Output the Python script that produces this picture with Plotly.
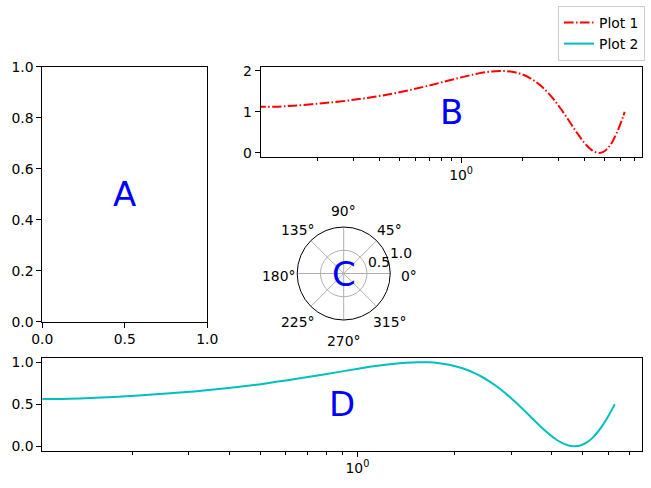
import math
import plotly.graph_objs as go

# curve samples read off panels B and D (the first sample sits left of the
# visible range: the traces run flat into the left spine)
x_vals = [0.100, 0.128, 0.256, 0.385, 0.513, 0.641, 0.769, 0.898, 1.026, 1.154,
          1.282, 1.411, 1.539, 1.667, 1.795, 1.923, 2.052, 2.180, 2.308, 2.436,
          2.565, 2.693, 2.821, 2.949, 3.077, 3.206, 3.334, 3.462, 3.590, 3.719,
          3.847, 3.975, 4.103, 4.232, 4.360, 4.488, 4.616, 4.744, 4.873, 5.001,
          5.129, 5.257, 5.386, 5.514, 5.642, 5.770, 5.899, 6.027, 6.155, 6.283]
plot1 = [1.127, 1.128, 1.254, 1.375, 1.491, 1.598, 1.696, 1.782, 1.855, 1.914,
         1.959, 1.987, 2.000, 1.995, 1.975, 1.938, 1.887, 1.820, 1.741, 1.649,
         1.545, 1.434, 1.315, 1.191, 1.064, 0.936, 0.809, 0.685, 0.566, 0.455,
         0.351, 0.259, 0.180, 0.113, 0.062, 0.025, 0.005, 0.000, 0.013, 0.041,
         0.086, 0.145, 0.218, 0.304, 0.402, 0.509, 0.625, 0.746, 0.872, 1.000]
plot2 = [0.563, 0.564, 0.627, 0.688, 0.745, 0.799, 0.848, 0.891, 0.928, 0.957,
         0.979, 0.994, 1.000, 0.998, 0.987, 0.969, 0.943, 0.910, 0.870, 0.824,
         0.773, 0.717, 0.658, 0.596, 0.532, 0.468, 0.404, 0.342, 0.283, 0.227,
         0.176, 0.130, 0.090, 0.057, 0.031, 0.013, 0.002, 0.000, 0.006, 0.021,
         0.043, 0.072, 0.109, 0.152, 0.201, 0.255, 0.312, 0.373, 0.436, 0.500]
series_names = ['Plot 1', 'Plot 2']
panel_labels = ['A', 'B', 'C', 'D']
radial_ticks = [0.5, 1.0]
angle_ticks = [0, 45, 90, 135, 180, 225, 270, 315]

minor_log = [0.2, 0.3, 0.4, 0.5, 0.6, 0.7, 0.8, 0.9, 2, 3, 4, 5, 6, 7]
W, H = 651, 488
FONT = 'DejaVu Sans'


def px(x):
    return x / W


def py(y):
    return 1 - y / H


traces = [
    # empty axes A
    go.Scatter(x=[], y=[], xaxis='x', yaxis='y', showlegend=False),
    go.Scatter(x=x_vals, y=plot1, name=series_names[0], xaxis='x2', yaxis='y2',
               mode='lines', line_shape='spline',
               line=dict(color='#ff0000', width=2, dash='9.6px,2.4px,1.5px,2.4px')),
    go.Scatter(x=x_vals, y=plot2, name=series_names[1], xaxis='x3', yaxis='y3',
               mode='lines', line_shape='spline',
               line=dict(color='#00bfbf', width=2)),
    go.Scatterpolar(r=[], theta=[], showlegend=False),
]

axis_style = dict(showline=True, mirror=True, linecolor='black', linewidth=1,
                  ticks='outside', ticklen=5, tickwidth=1, tickcolor='black',
                  showgrid=False, zeroline=False, automargin=False,
                  tickfont=dict(family=FONT, size=13.9, color='black'))

log_range = [-0.9775, 0.8826]
log_axis = dict(axis_style, type='log', range=log_range, tickvals=[1],
                ticktext=['10<sup>0</sup>'],
                minor=dict(tickvals=minor_log, ticks='outside', ticklen=3,
                           tickwidth=1, tickcolor='black', showgrid=False))

# polar panel C: centre and radius in pixels
cx, cy, rad = 343.7, 273.5, 46.5

layout = go.Layout(
    width=W, height=H,
    margin=dict(l=0, r=0, t=0, b=0, autoexpand=False),
    paper_bgcolor='white', plot_bgcolor='white',
    font=dict(family=FONT, size=13.9, color='black'),
    xaxis=dict(axis_style, domain=[px(42.3), px(207.3)], range=[0, 1],
               tickvals=[0, 0.5, 1], tickformat='.1f', anchor='y'),
    yaxis=dict(axis_style, domain=[py(321.7), py(66.8)], range=[0, 1],
               dtick=0.2, tickformat='.1f', anchor='x'),
    xaxis2=dict(log_axis, domain=[px(260.7), px(642)], anchor='y2'),
    yaxis2=dict(axis_style, domain=[py(157), py(66.8)], range=[-0.1, 2.1],
                tickvals=[0, 1, 2], anchor='x2'),
    xaxis3=dict(log_axis, domain=[px(42.3), px(642)], anchor='y3'),
    yaxis3=dict(axis_style, domain=[py(450.5), py(358)], range=[-0.05, 1.05],
                tickvals=[0, 0.5, 1], tickformat='.1f', anchor='x3'),
    polar=dict(
        domain=dict(x=[px(cx - rad), px(cx + rad)], y=[py(cy + rad), py(cy - rad)]),
        bgcolor='white',
        angularaxis=dict(tickvals=angle_ticks, rotation=0,
                         direction='counterclockwise',
                         showline=True, linecolor='black', linewidth=1,
                         gridcolor='#b0b0b0', gridwidth=1, ticks='',
                         showticklabels=False),
        radialaxis=dict(range=[0, 1], angle=22.5, tickvals=radial_ticks,
                        showticklabels=False, showline=False, ticks='',
                        gridcolor='#b0b0b0', gridwidth=1),
    ),
    legend=dict(x=px(645), y=py(6), xanchor='right', yanchor='top',
                bordercolor='#cccccc', borderwidth=1, bgcolor='white',
                font=dict(family=FONT, size=13.9, color='black')),
)

letter_pos = [(124.8, 194), (451.4, 112), (cx, cy), (342.2, 404)]
annotations = []
for label, (ax_x, ax_y) in zip(panel_labels, letter_pos):
    annotations.append(dict(text=label, x=px(ax_x), y=py(ax_y), xref='paper',
                            yref='paper', xanchor='center', yanchor='middle',
                            showarrow=False,
                            font=dict(family=FONT, size=34, color='#0000ff')))

tick_font = dict(family=FONT, size=13.9, color='black')

# degree labels centred on a ring just outside the polar frame
for a in angle_ticks:
    lx = cx + 65 * math.cos(math.radians(a))
    ly = cy - 65 * math.sin(math.radians(a)) + 2.5
    annotations.append(dict(text=f'{a}°', x=px(lx), y=py(ly), xref='paper',
                            yref='paper', xanchor='center', yanchor='middle',
                            showarrow=False, font=tick_font))

# radial tick labels, set just beside the 22.5 degree spoke
for r in radial_ticks:
    tx = cx + rad * r * 0.924
    ty = cy - rad * r * 0.383
    annotations.append(dict(text=f'{r:.1f}', x=px(tx + 1), y=py(ty - 3),
                            xref='paper', yref='paper', xanchor='left',
                            yanchor='middle', showarrow=False, font=tick_font))
layout.annotations = annotations

fig = go.Figure(data=traces, layout=layout)
# drop the page's default body margin so the figure sits at the window's corner
fig.write_html("out.html", config={'displayModeBar': False},
               post_script="document.body.style.margin='0';")
